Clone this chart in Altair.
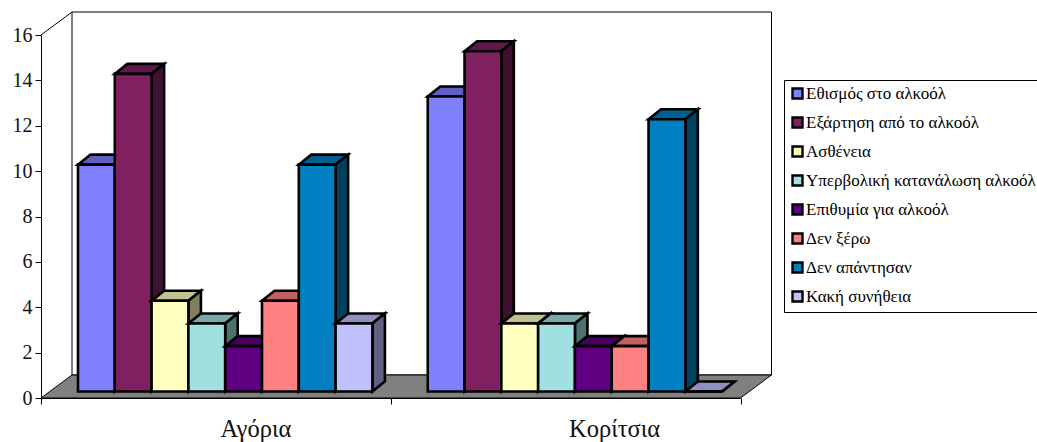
import altair as alt
import pandas as pd

# Survey answers per group
groups = ["Αγόρια", "Κορίτσια"]
answers = [
    "Εθισμός στο αλκοόλ",
    "Εξάρτηση από το αλκοόλ",
    "Ασθένεια",
    "Υπερβολική κατανάλωση αλκοόλ",
    "Επιθυμία για αλκοόλ",
    "Δεν ξέρω",
    "Δεν απάντησαν",
    "Κακή συνήθεια",
]
boys = [10, 14, 4, 3, 2, 4, 10, 3]
girls = [13, 15, 3, 3, 2, 2, 12, 0]
group_values = [boys, girls]

front_colors = ["#8080FF", "#802060", "#FFFFC0", "#A0E0E0", "#600080", "#FF8080", "#0080C0", "#C0C0FF"]
top_colors = ["#6060C0", "#601848", "#C0C090", "#78A8A8", "#480060", "#C06060", "#006090", "#9090C0"]
side_colors = ["#404080", "#401030", "#808060", "#507070", "#300040", "#804040", "#004060", "#606080"]

# Pseudo-3D geometry, in axis units
PX_X = 349.75  # pixels per group on the x scale
PX_Y = 363 / 16  # pixels per unit on the y scale
BAR_W = 36.8 / PX_X
BAR_START = 37 / PX_X
BAR_LIFT = 6.5 / PX_Y
BAR_DX = 12.5 / PX_X
BAR_DY = 10 / PX_Y
ROOM_DX = 31 / PX_X
ROOM_DY = 23 / PX_Y
LABEL_POS = [0.6147, 1.64]

rows = []


def add_face(face, key, points):
    for px, lo, hi in points:
        rows.append({"face": face, "key": key, "x": px, "lo": lo, "hi": hi})


face_id = 0
for g, values in enumerate(group_values):
    for j, (name, v) in enumerate(zip(answers, values)):
        x0 = g + BAR_START + j * BAR_W
        x1 = x0 + BAR_W
        top = v + BAR_LIFT
        add_face(face_id, name + " top", [
            (x0, top, top),
            (x0 + BAR_DX, top, top + BAR_DY),
            (x1, top, top + BAR_DY),
            (x1 + BAR_DX, top + BAR_DY, top + BAR_DY),
        ])
        add_face(face_id + 1, name + " side", [
            (x1, BAR_LIFT, top),
            (x1 + BAR_DX, BAR_LIFT + BAR_DY, top + BAR_DY),
        ])
        add_face(face_id + 2, name, [(x0, BAR_LIFT, top), (x1, BAR_LIFT, top)])
        face_id += 3

bars = pd.DataFrame(rows)

x_enc = alt.X(
    "x:Q",
    scale=alt.Scale(domain=[0, 2], range=[0, 699.5], nice=False, zero=False),
    title=None,
    axis=alt.Axis(values=[0, 1, 2], labels=False, grid=False, tickSize=6,
                  domainColor="black", tickColor="black", zindex=1),
)
y_enc = alt.Y(
    "lo:Q",
    scale=alt.Scale(domain=[0, 16], range=[398, 35], nice=False, zero=False),
    title=None,
    axis=alt.Axis(values=list(range(0, 17, 2)), grid=False, tickSize=6, labelPadding=3,
                  labelFont="Liberation Serif", labelFontSize=20, labelColor="#111111",
                  domainColor="black", tickColor="black", zindex=1),
)

wall = pd.DataFrame({
    "x": [ROOM_DX, 2 + ROOM_DX],
    "lo": [ROOM_DY, ROOM_DY],
    "hi": [16 + ROOM_DY, 16 + ROOM_DY],
})
floor = pd.DataFrame({
    "x": [0, ROOM_DX, 2, 2 + ROOM_DX],
    "lo": [0, 0, 0, ROOM_DY],
    "hi": [0, ROOM_DY, ROOM_DY, ROOM_DY],
})
side_edge = pd.DataFrame({"x": [0, ROOM_DX], "lo": [16, 16 + ROOM_DY]})
labels = pd.DataFrame({"x": LABEL_POS, "label": groups})

wall_layer = alt.Chart(wall).mark_area(fill="white", stroke="black", strokeWidth=1).encode(
    x=x_enc, y=y_enc, y2="hi:Q",
)

floor_layer = alt.Chart(floor).mark_area(fill="#808080", stroke="black", strokeWidth=1).encode(
    x=x_enc, y=y_enc, y2="hi:Q",
)

edge_layer = alt.Chart(side_edge).mark_line(color="black", strokeWidth=1).encode(
    x=x_enc, y=y_enc,
)

color_domain = answers + [a + " top" for a in answers] + [a + " side" for a in answers]
color_range = front_colors + top_colors + side_colors

bar_layer = alt.Chart(bars).mark_area(stroke="black", strokeWidth=2.6, strokeJoin="miter", opacity=1).encode(
    x=x_enc,
    y=y_enc,
    y2="hi:Q",
    detail="face:N",
    color=alt.Color(
        "key:N",
        scale=alt.Scale(domain=color_domain, range=color_range),
        legend=alt.Legend(
            values=answers, title=None, orient="none", legendX=743, legendY=80,
            fillColor="white", strokeColor="black", padding=5, rowPadding=8,
            symbolType="square", symbolSize=100, symbolStrokeColor="black", symbolStrokeWidth=2.4,
            labelFont="Liberation Serif", labelFontSize=17, labelColor="black",
            labelOffset=0, labelLimit=400,
        ),
    ),
)

label_layer = alt.Chart(labels).mark_text(
    font="Liberation Serif", fontSize=24.5, color="#111111", baseline="middle",
).encode(
    x=x_enc,
    y=alt.value(430),
    text="label:N",
)

chart = (
    alt.layer(wall_layer, floor_layer, edge_layer, bar_layer, label_layer)
    .properties(
        width=996, height=398,
        padding={"left": 41, "top": 0, "right": 0, "bottom": 44},
        autosize=alt.AutoSizeParams(type="none"),
        background="white",
    )
    .configure_view(stroke=None)
)

chart.save("out.html", embed_options={"renderer": "svg", "actions": False})
